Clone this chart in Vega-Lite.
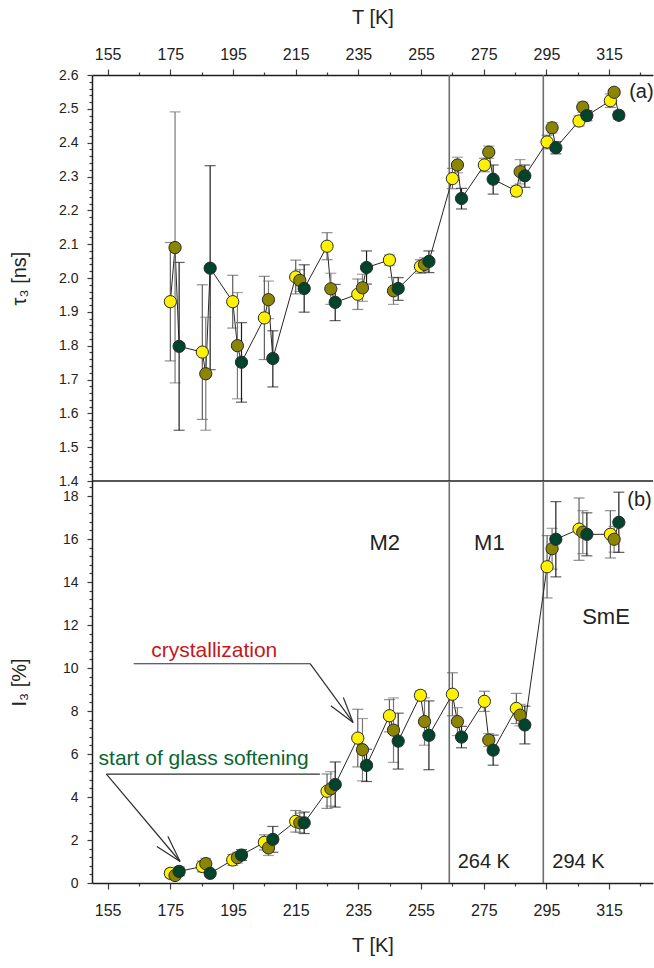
{
  "$schema": "https://vega.github.io/schema/vega-lite/v6.json",
  "padding": {"left": 9, "top": 7, "right": 0, "bottom": 5},
  "spacing": 0,
  "bounds": "flush",
  "config": {
    "view": {"stroke": null},
    "font": "Liberation Sans",
    "axis": {
      "grid": false,
      "labelFont": "Liberation Sans",
      "labelFontSize": 16,
      "labelColor": "#222222",
      "titleFont": "Liberation Sans",
      "titleFontSize": 20,
      "titleFontWeight": "normal",
      "titleColor": "#222222",
      "domainColor": "#1e1e1e",
      "domainWidth": 1.5,
      "tickColor": "#3c3c3c",
      "tickWidth": 1.2
    }
  },
  "datasets": {
    "tau": [
      {"set": "A", "T": 175.0, "v": 1.930, "lo": 1.755, "hi": 2.105},
      {"set": "A", "T": 185.2, "v": 1.781, "lo": 1.582, "hi": 1.980},
      {"set": "A", "T": 194.9, "v": 1.930, "lo": 1.852, "hi": 2.008},
      {"set": "A", "T": 205.0, "v": 1.882, "lo": 1.759, "hi": 2.005},
      {"set": "A", "T": 215.0, "v": 2.003, "lo": 1.953, "hi": 2.053},
      {"set": "A", "T": 225.0, "v": 2.094, "lo": 2.054, "hi": 2.134},
      {"set": "A", "T": 234.8, "v": 1.952, "lo": 1.907, "hi": 1.997},
      {"set": "A", "T": 244.9, "v": 2.053, "lo": 2.038, "hi": 2.068},
      {"set": "A", "T": 254.8, "v": 2.034, "lo": 2.014, "hi": 2.054},
      {"set": "A", "T": 265.0, "v": 2.294, "lo": 2.264, "hi": 2.324},
      {"set": "A", "T": 275.2, "v": 2.334, "lo": 2.314, "hi": 2.354},
      {"set": "A", "T": 285.4, "v": 2.257, "lo": 2.242, "hi": 2.272},
      {"set": "A", "T": 295.2, "v": 2.402, "lo": 2.382, "hi": 2.422},
      {"set": "A", "T": 305.4, "v": 2.464, "lo": 2.449, "hi": 2.479},
      {"set": "A", "T": 315.4, "v": 2.524, "lo": 2.504, "hi": 2.544},
      {"set": "B", "T": 176.5, "v": 2.090, "lo": 1.690, "hi": 2.491},
      {"set": "B", "T": 186.3, "v": 1.717, "lo": 1.550, "hi": 1.884},
      {"set": "B", "T": 196.4, "v": 1.800, "lo": 1.643, "hi": 1.957},
      {"set": "B", "T": 206.3, "v": 1.936, "lo": 1.880, "hi": 1.991},
      {"set": "B", "T": 216.3, "v": 1.993, "lo": 1.960, "hi": 2.025},
      {"set": "B", "T": 226.2, "v": 1.968, "lo": 1.922, "hi": 2.014},
      {"set": "B", "T": 236.3, "v": 1.971, "lo": 1.931, "hi": 2.011},
      {"set": "B", "T": 246.2, "v": 1.962, "lo": 1.922, "hi": 2.002},
      {"set": "B", "T": 256.1, "v": 2.040, "lo": 2.020, "hi": 2.060},
      {"set": "B", "T": 266.6, "v": 2.334, "lo": 2.311, "hi": 2.357},
      {"set": "B", "T": 276.6, "v": 2.372, "lo": 2.354, "hi": 2.390},
      {"set": "B", "T": 286.6, "v": 2.314, "lo": 2.278, "hi": 2.350},
      {"set": "B", "T": 296.8, "v": 2.444, "lo": 2.429, "hi": 2.459},
      {"set": "B", "T": 306.6, "v": 2.505, "lo": 2.490, "hi": 2.520},
      {"set": "B", "T": 316.6, "v": 2.549, "lo": 2.539, "hi": 2.559},
      {"set": "C", "T": 177.8, "v": 1.798, "lo": 1.550, "hi": 2.046},
      {"set": "C", "T": 187.7, "v": 2.029, "lo": 1.729, "hi": 2.332},
      {"set": "C", "T": 197.7, "v": 1.751, "lo": 1.633, "hi": 1.868},
      {"set": "C", "T": 207.7, "v": 1.762, "lo": 1.678, "hi": 1.844},
      {"set": "C", "T": 217.7, "v": 1.969, "lo": 1.899, "hi": 2.039},
      {"set": "C", "T": 227.6, "v": 1.928, "lo": 1.874, "hi": 1.981},
      {"set": "C", "T": 237.6, "v": 2.031, "lo": 1.982, "hi": 2.080},
      {"set": "C", "T": 247.7, "v": 1.969, "lo": 1.934, "hi": 2.001},
      {"set": "C", "T": 257.5, "v": 2.049, "lo": 2.016, "hi": 2.080},
      {"set": "C", "T": 267.9, "v": 2.235, "lo": 2.204, "hi": 2.265},
      {"set": "C", "T": 278.0, "v": 2.292, "lo": 2.248, "hi": 2.334},
      {"set": "C", "T": 288.1, "v": 2.302, "lo": 2.268, "hi": 2.334},
      {"set": "C", "T": 298.0, "v": 2.385, "lo": 2.367, "hi": 2.403},
      {"set": "C", "T": 307.9, "v": 2.480, "lo": 2.465, "hi": 2.495},
      {"set": "C", "T": 318.1, "v": 2.481, "lo": 2.469, "hi": 2.493}
    ],
    "inten": [
      {"set": "A", "T": 175.0, "v": 0.45, "lo": 0.25, "hi": 0.65},
      {"set": "A", "T": 185.2, "v": 0.77, "lo": 0.52, "hi": 1.02},
      {"set": "A", "T": 194.9, "v": 1.07, "lo": 0.82, "hi": 1.32},
      {"set": "A", "T": 205.0, "v": 1.89, "lo": 1.54, "hi": 2.24},
      {"set": "A", "T": 215.0, "v": 2.87, "lo": 2.37, "hi": 3.37},
      {"set": "A", "T": 225.0, "v": 4.27, "lo": 3.47, "hi": 5.07},
      {"set": "A", "T": 234.8, "v": 6.74, "lo": 5.40, "hi": 8.08},
      {"set": "A", "T": 244.9, "v": 7.78, "lo": 7.03, "hi": 8.53},
      {"set": "A", "T": 254.8, "v": 8.73, "lo": 8.53, "hi": 8.93},
      {"set": "A", "T": 265.0, "v": 8.78, "lo": 7.78, "hi": 9.78},
      {"set": "A", "T": 275.2, "v": 8.45, "lo": 7.98, "hi": 8.92},
      {"set": "A", "T": 285.4, "v": 8.12, "lo": 7.42, "hi": 8.82},
      {"set": "A", "T": 295.2, "v": 14.71, "lo": 13.26, "hi": 16.16},
      {"set": "A", "T": 305.4, "v": 16.46, "lo": 15.01, "hi": 17.91},
      {"set": "A", "T": 315.4, "v": 16.22, "lo": 15.12, "hi": 17.32},
      {"set": "B", "T": 176.5, "v": 0.35, "lo": 0.15, "hi": 0.55},
      {"set": "B", "T": 186.3, "v": 0.90, "lo": 0.65, "hi": 1.15},
      {"set": "B", "T": 196.4, "v": 1.18, "lo": 0.93, "hi": 1.43},
      {"set": "B", "T": 206.3, "v": 1.63, "lo": 1.28, "hi": 1.98},
      {"set": "B", "T": 216.3, "v": 2.80, "lo": 2.35, "hi": 3.25},
      {"set": "B", "T": 226.2, "v": 4.38, "lo": 3.58, "hi": 5.18},
      {"set": "B", "T": 236.3, "v": 6.20, "lo": 4.75, "hi": 7.65},
      {"set": "B", "T": 246.2, "v": 7.11, "lo": 5.61, "hi": 8.61},
      {"set": "B", "T": 256.1, "v": 7.51, "lo": 6.41, "hi": 8.61},
      {"set": "B", "T": 266.6, "v": 7.51, "lo": 6.86, "hi": 8.16},
      {"set": "B", "T": 276.6, "v": 6.65, "lo": 6.35, "hi": 6.95},
      {"set": "B", "T": 286.6, "v": 7.81, "lo": 7.31, "hi": 8.31},
      {"set": "B", "T": 296.8, "v": 15.55, "lo": 14.60, "hi": 16.50},
      {"set": "B", "T": 306.6, "v": 16.32, "lo": 15.32, "hi": 17.32},
      {"set": "B", "T": 316.6, "v": 15.99, "lo": 15.39, "hi": 16.59},
      {"set": "C", "T": 177.8, "v": 0.54, "lo": 0.34, "hi": 0.74},
      {"set": "C", "T": 187.7, "v": 0.45, "lo": 0.35, "hi": 0.55},
      {"set": "C", "T": 197.7, "v": 1.30, "lo": 1.05, "hi": 1.55},
      {"set": "C", "T": 207.7, "v": 2.03, "lo": 1.43, "hi": 2.63},
      {"set": "C", "T": 217.7, "v": 2.80, "lo": 2.30, "hi": 3.30},
      {"set": "C", "T": 227.6, "v": 4.58, "lo": 3.53, "hi": 5.63},
      {"set": "C", "T": 237.6, "v": 5.47, "lo": 4.72, "hi": 6.22},
      {"set": "C", "T": 247.7, "v": 6.60, "lo": 5.30, "hi": 7.90},
      {"set": "C", "T": 257.5, "v": 6.87, "lo": 5.27, "hi": 8.47},
      {"set": "C", "T": 267.9, "v": 6.79, "lo": 6.29, "hi": 7.29},
      {"set": "C", "T": 278.0, "v": 6.18, "lo": 5.48, "hi": 6.88},
      {"set": "C", "T": 288.1, "v": 7.35, "lo": 6.47, "hi": 8.23},
      {"set": "C", "T": 298.0, "v": 15.99, "lo": 14.24, "hi": 17.74},
      {"set": "C", "T": 307.9, "v": 16.22, "lo": 15.22, "hi": 17.22},
      {"set": "C", "T": 318.1, "v": 16.78, "lo": 15.38, "hi": 18.18}
    ]
  },
  "vconcat": [
    {
      "width": 561,
      "height": 406,
      "resolve": {"axis": {"x": "independent", "y": "independent"}},
      "layer": [
        {
          "data": {"values": [{"T": 264}, {"T": 294}]},
          "mark": {"type": "rule", "color": "#6e6e6e", "strokeWidth": 1.6},
          "encoding": {
            "x": {"field": "T", "type": "quantitative", "scale": {"domain": [150, 329], "nice": false, "zero": false}, "axis": null}
          }
        },
        {
          "data": {"values": [{"v": 1.4}]},
          "mark": {"type": "rule", "color": "#1e1e1e", "strokeWidth": 1.5},
          "encoding": {
            "y": {"field": "v", "type": "quantitative", "scale": {"domain": [1.4, 2.6], "nice": false, "zero": false}, "axis": null}
          }
        },
        {
          "data": {"name": "tau"},
          "mark": {"type": "line", "color": "#262626", "strokeWidth": 1},
          "encoding": {
            "x": {"field": "T", "type": "quantitative", "scale": {"domain": [150, 329], "nice": false, "zero": false},
                  "axis": {"orient": "top", "values": [165, 185, 205, 225, 245, 265, 285, 305, 325], "tickSize": 3, "labels": false, "domain": false, "title": null}},
            "y": {"field": "v", "type": "quantitative", "scale": {"domain": [1.4, 2.6], "nice": false, "zero": false},
                  "axis": {"orient": "left", "values": [1.42, 1.44, 1.46, 1.48, 1.52, 1.54, 1.56, 1.58, 1.62, 1.64, 1.66, 1.68, 1.72, 1.74, 1.76, 1.78, 1.82, 1.84, 1.86, 1.88, 1.92, 1.94, 1.96, 1.98, 2.02, 2.04, 2.06, 2.08, 2.12, 2.14, 2.16, 2.18, 2.22, 2.24, 2.26, 2.28, 2.32, 2.34, 2.36, 2.38, 2.42, 2.44, 2.46, 2.48, 2.52, 2.54, 2.56, 2.58], "tickSize": 3, "labels": false, "domain": false, "title": null}},
            "order": {"field": "T", "type": "quantitative"}
          }
        },
        {
          "data": {"name": "tau"},
          "mark": {"type": "errorbar", "ticks": true, "size": 11, "thickness": 1.2},
          "encoding": {
            "x": {"field": "T", "type": "quantitative", "scale": {"domain": [150, 329], "nice": false, "zero": false}, "axis": null},
            "y": {"field": "lo", "type": "quantitative", "scale": {"domain": [1.4, 2.6], "nice": false, "zero": false}, "axis": null},
            "y2": {"field": "hi"},
            "color": {"field": "set", "type": "nominal", "scale": {"domain": ["A", "B", "C"], "range": ["#5e5e5e", "#787878", "#1c1c1c"]}, "legend": null}
          }
        },
        {
          "data": {"name": "tau"},
          "mark": {"type": "circle", "size": 150, "opacity": 1, "stroke": "#2a2a2a", "strokeWidth": 1},
          "encoding": {
            "x": {"field": "T", "type": "quantitative", "scale": {"domain": [150, 329], "nice": false, "zero": false},
                  "axis": {"orient": "top", "values": [155, 175, 195, 215, 235, 255, 275, 295, 315], "tickSize": 6, "labelPadding": 7, "title": "T [K]", "titleY": -58, "titleBaseline": "middle"}},
            "y": {"field": "v", "type": "quantitative", "scale": {"domain": [1.4, 2.6], "nice": false, "zero": false},
                  "axis": {"orient": "left", "values": [1.4, 1.5, 1.6, 1.7, 1.8, 1.9, 2.0, 2.1, 2.2, 2.3, 2.4, 2.5, 2.6], "format": ".1f", "labelFontSize": 14, "tickSize": 5, "labelPadding": 9, "title": "τ₃ [ns]", "titleX": -73, "titleY": 203, "titleBaseline": "middle"}},
            "fill": {"field": "set", "type": "nominal", "scale": {"domain": ["A", "B", "C"], "range": ["#FFF200", "#8C8500", "#00452B"]}, "legend": null}
          }
        },
        {
          "data": {"values": [{"T": 321.4, "v": 2.549, "label": "(a)"}]},
          "mark": {"type": "text", "align": "left", "baseline": "middle", "fontSize": 20, "color": "#222222", "clip": true},
          "encoding": {
            "x": {"field": "T", "type": "quantitative", "scale": {"domain": [150, 329], "nice": false, "zero": false}, "axis": null},
            "y": {"field": "v", "type": "quantitative", "scale": {"domain": [1.4, 2.6], "nice": false, "zero": false}, "axis": null},
            "text": {"field": "label"}
          }
        }
      ]
    },
    {
      "width": 561,
      "height": 402,
      "resolve": {"axis": {"x": "independent", "y": "independent"}},
      "layer": [
        {
          "data": {"values": [{"T": 264}, {"T": 294}]},
          "mark": {"type": "rule", "color": "#6e6e6e", "strokeWidth": 1.6},
          "encoding": {
            "x": {"field": "T", "type": "quantitative", "scale": {"domain": [150, 329], "nice": false, "zero": false}, "axis": null}
          }
        },
        {
          "data": {"name": "inten"},
          "mark": {"type": "line", "color": "#262626", "strokeWidth": 1},
          "encoding": {
            "x": {"field": "T", "type": "quantitative", "scale": {"domain": [150, 329], "nice": false, "zero": false},
                  "axis": {"orient": "bottom", "values": [165, 185, 205, 225, 245, 265, 285, 305, 325], "tickSize": 3, "labels": false, "domain": false, "title": null}},
            "y": {"field": "v", "type": "quantitative", "scale": {"domain": [0, 18.7], "nice": false, "zero": false},
                  "axis": {"orient": "left", "values": [0.4, 0.8, 1.2, 1.6, 2.4, 2.8, 3.2, 3.6, 4.4, 4.8, 5.2, 5.6, 6.4, 6.8, 7.2, 7.6, 8.4, 8.8, 9.2, 9.6, 10.4, 10.8, 11.2, 11.6, 12.4, 12.8, 13.2, 13.6, 14.4, 14.8, 15.2, 15.6, 16.4, 16.8, 17.2, 17.6, 18.4], "tickSize": 3, "labels": false, "domain": false, "title": null}},
            "order": {"field": "T", "type": "quantitative"}
          }
        },
        {
          "data": {"name": "inten"},
          "mark": {"type": "errorbar", "ticks": true, "size": 11, "thickness": 1.2},
          "encoding": {
            "x": {"field": "T", "type": "quantitative", "scale": {"domain": [150, 329], "nice": false, "zero": false}, "axis": null},
            "y": {"field": "lo", "type": "quantitative", "scale": {"domain": [0, 18.7], "nice": false, "zero": false}, "axis": null},
            "y2": {"field": "hi"},
            "color": {"field": "set", "type": "nominal", "scale": {"domain": ["A", "B", "C"], "range": ["#5e5e5e", "#787878", "#1c1c1c"]}, "legend": null}
          }
        },
        {
          "data": {"name": "inten"},
          "mark": {"type": "circle", "size": 150, "opacity": 1, "stroke": "#2a2a2a", "strokeWidth": 1},
          "encoding": {
            "x": {"field": "T", "type": "quantitative", "scale": {"domain": [150, 329], "nice": false, "zero": false},
                  "axis": {"orient": "bottom", "values": [155, 175, 195, 215, 235, 255, 275, 295, 315], "tickSize": 6, "labelPadding": 13, "title": "T [K]", "titleY": 62, "titleBaseline": "middle"}},
            "y": {"field": "v", "type": "quantitative", "scale": {"domain": [0, 18.7], "nice": false, "zero": false},
                  "axis": {"orient": "left", "values": [0, 2, 4, 6, 8, 10, 12, 14, 16, 18], "labelFontSize": 14, "tickSize": 5, "labelPadding": 9, "title": "I₃ [%]", "titleX": -73, "titleY": 201, "titleBaseline": "middle"}},
            "fill": {"field": "set", "type": "nominal", "scale": {"domain": ["A", "B", "C"], "range": ["#FFF200", "#8C8500", "#00452B"]}, "legend": null}
          }
        },
        {
          "data": {"values": [
            {"x1": 163.3, "y1": 10.2, "x2": 219.6, "y2": 10.2},
            {"x1": 219.6, "y1": 10.2, "x2": 233.3, "y2": 7.47},
            {"x1": 233.3, "y1": 7.47, "x2": 226.2, "y2": 8.25},
            {"x1": 233.3, "y1": 7.47, "x2": 230.2, "y2": 8.63},
            {"x1": 154.6, "y1": 5.06, "x2": 222.7, "y2": 5.06},
            {"x1": 154.6, "y1": 5.06, "x2": 178.1, "y2": 1.0},
            {"x1": 178.1, "y1": 1.0, "x2": 170.7, "y2": 1.7},
            {"x1": 178.1, "y1": 1.0, "x2": 174.2, "y2": 2.17}
          ]},
          "mark": {"type": "rule", "color": "#2e2e2e", "strokeWidth": 1.2},
          "encoding": {
            "x": {"field": "x1", "type": "quantitative", "scale": {"domain": [150, 329], "nice": false, "zero": false}, "axis": null},
            "y": {"field": "y1", "type": "quantitative", "scale": {"domain": [0, 18.7], "nice": false, "zero": false}, "axis": null},
            "x2": {"field": "x2"},
            "y2": {"field": "y2"}
          }
        },
        {
          "data": {"values": [{"T": 168.9, "v": 10.77, "label": "crystallization"}]},
          "mark": {"type": "text", "align": "left", "baseline": "middle", "fontSize": 21, "color": "#C4161C"},
          "encoding": {
            "x": {"field": "T", "type": "quantitative", "scale": {"domain": [150, 329], "nice": false, "zero": false}, "axis": null},
            "y": {"field": "v", "type": "quantitative", "scale": {"domain": [0, 18.7], "nice": false, "zero": false}, "axis": null},
            "text": {"field": "label"}
          }
        },
        {
          "data": {"values": [{"T": 152.1, "v": 5.78, "label": "start of glass softening"}]},
          "mark": {"type": "text", "align": "left", "baseline": "middle", "fontSize": 21, "color": "#086633"},
          "encoding": {
            "x": {"field": "T", "type": "quantitative", "scale": {"domain": [150, 329], "nice": false, "zero": false}, "axis": null},
            "y": {"field": "v", "type": "quantitative", "scale": {"domain": [0, 18.7], "nice": false, "zero": false}, "axis": null},
            "text": {"field": "label"}
          }
        },
        {
          "data": {"values": [
            {"T": 243.4, "v": 15.83, "label": "M2"},
            {"T": 276.8, "v": 15.83, "label": "M1"},
            {"T": 314.0, "v": 12.38, "label": "SmE"}
          ]},
          "mark": {"type": "text", "align": "center", "baseline": "middle", "fontSize": 22, "color": "#222222"},
          "encoding": {
            "x": {"field": "T", "type": "quantitative", "scale": {"domain": [150, 329], "nice": false, "zero": false}, "axis": null},
            "y": {"field": "v", "type": "quantitative", "scale": {"domain": [0, 18.7], "nice": false, "zero": false}, "axis": null},
            "text": {"field": "label"}
          }
        },
        {
          "data": {"values": [
            {"T": 275.0, "v": 1.0, "label": "264 K"},
            {"T": 305.2, "v": 1.0, "label": "294 K"}
          ]},
          "mark": {"type": "text", "align": "center", "baseline": "middle", "fontSize": 20, "color": "#222222"},
          "encoding": {
            "x": {"field": "T", "type": "quantitative", "scale": {"domain": [150, 329], "nice": false, "zero": false}, "axis": null},
            "y": {"field": "v", "type": "quantitative", "scale": {"domain": [0, 18.7], "nice": false, "zero": false}, "axis": null},
            "text": {"field": "label"}
          }
        },
        {
          "data": {"values": [{"T": 320.8, "v": 17.83, "label": "(b)"}]},
          "mark": {"type": "text", "align": "left", "baseline": "middle", "fontSize": 20, "color": "#222222", "clip": true},
          "encoding": {
            "x": {"field": "T", "type": "quantitative", "scale": {"domain": [150, 329], "nice": false, "zero": false}, "axis": null},
            "y": {"field": "v", "type": "quantitative", "scale": {"domain": [0, 18.7], "nice": false, "zero": false}, "axis": null},
            "text": {"field": "label"}
          }
        }
      ]
    }
  ]
}
